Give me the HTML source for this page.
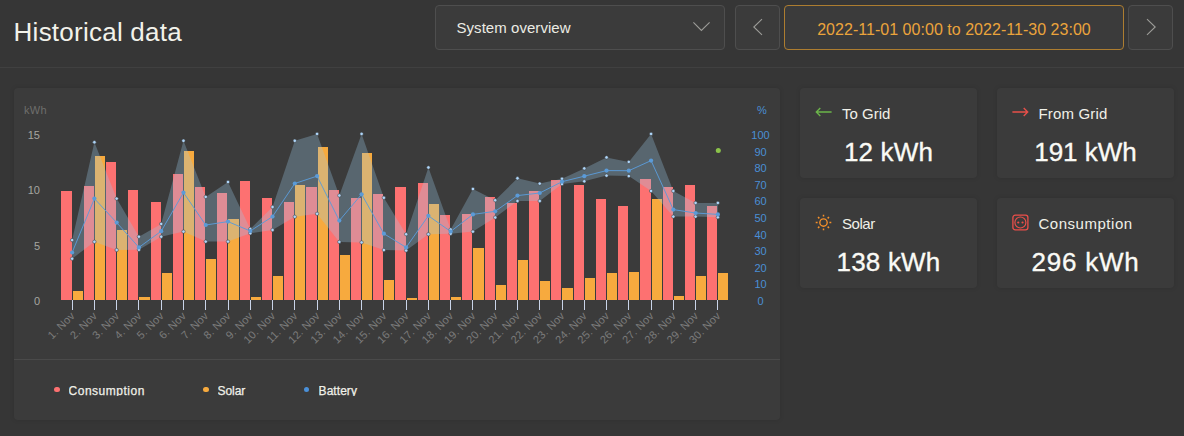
<!DOCTYPE html>
<html><head><meta charset="utf-8"><title>Historical data</title>
<style>
*{box-sizing:border-box}
html,body{margin:0;padding:0}
body{width:1184px;height:436px;overflow:hidden;background:#363636;font-family:"Liberation Sans",sans-serif;position:relative;color:#f0f0e8}
.abs{position:absolute}
.title{left:13.6px;top:16.7px;font-size:26px;line-height:30px;letter-spacing:0.24px;color:#f2f2ea;white-space:nowrap}
.box{position:absolute;top:5px;height:45px;border:1px solid #4e4e4e;border-radius:4px;background:#3b3b3b}
.hr{position:absolute;left:0;top:67px;width:1184px;height:1px;background:#404040}
.panel{position:absolute;background:#3b3b3b;border-radius:4px;box-shadow:0 0 5px rgba(0,0,0,0.10)}
.card{position:absolute;background:#3b3b3b;border-radius:4px;width:177px;height:90px;box-shadow:0 0 5px rgba(0,0,0,0.10)}
.lbl{position:absolute;font-size:15px;line-height:18px;color:#f0f0e8;white-space:nowrap}
.val{position:absolute;left:0;width:100%;text-align:center;font-size:26px;line-height:30px;color:#fafaf5;white-space:nowrap;-webkit-text-stroke:0.35px #fafaf5}
.legw{top:383.6px;height:12px;overflow:hidden}
.leg{position:absolute;font-size:12px;line-height:14px;color:#f0f0e8;white-space:nowrap;top:0;left:0;-webkit-text-stroke:0.25px #f0f0e8}
svg text{font-family:"Liberation Sans",sans-serif}
</style></head><body>
<div class="abs title">Historical data</div>
<div class="box" style="left:435px;width:290px"><div class="abs" style="left:20.5px;top:13.2px;font-size:15px;line-height:18px;color:#ecece4;white-space:nowrap;letter-spacing:0.05px">System overview</div>
<svg class="abs" style="left:254px;top:13.05px" width="22" height="14" viewBox="0 0 22 14"><path d="M3.4 3.3 L11.4 11.5 L19.6 3.3" fill="none" stroke="#9c9c98" stroke-width="1.1"/></svg></div>
<div class="box" style="left:735px;width:45px"><svg class="abs" style="left:13px;top:10.05px" width="16" height="22" viewBox="0 0 16 22"><path d="M13 3.2 L4.8 11 L13 18.9" fill="none" stroke="#9c9c98" stroke-width="1.1"/></svg></div>
<div class="box" style="left:784px;width:340px;border-color:#ad7d30"><div class="abs" style="left:0;width:100%;text-align:center;top:14.6px;font-size:16px;line-height:18px;color:#eba43b;white-space:nowrap;letter-spacing:0.03px">2022-11-01 00:00 to 2022-11-30 23:00</div></div>
<div class="box" style="left:1128px;width:45px"><svg class="abs" style="left:14.4px;top:10.1px" width="16" height="22" viewBox="0 0 16 22"><path d="M4 3.2 L12.2 11 L4 18.9" fill="none" stroke="#9c9c98" stroke-width="1.1"/></svg></div>
<div class="hr"></div>
<div class="panel" style="left:14px;top:88px;width:766px;height:332px"></div>
<div class="abs" style="left:14px;top:359px;width:766px;height:1px;background:#4a4a4a"></div>
<svg class="abs" style="left:0;top:0" width="790" height="436" viewBox="0 0 790 436">
<rect x="61" y="191" width="11" height="109" fill="#fd7171"/>
<rect x="73" y="291" width="10" height="9" fill="#f7aa3e"/>
<rect x="84" y="186" width="10" height="114" fill="#fd7171"/>
<rect x="95" y="156" width="10" height="144" fill="#f7aa3e"/>
<rect x="106" y="162" width="10" height="138" fill="#fd7171"/>
<rect x="117" y="230" width="10" height="70" fill="#f7aa3e"/>
<rect x="128" y="190" width="10" height="110" fill="#fd7171"/>
<rect x="139" y="297" width="11" height="3" fill="#f7aa3e"/>
<rect x="151" y="202" width="10" height="98" fill="#fd7171"/>
<rect x="162" y="273" width="10" height="27" fill="#f7aa3e"/>
<rect x="173" y="174" width="10" height="126" fill="#fd7171"/>
<rect x="184" y="151" width="10" height="149" fill="#f7aa3e"/>
<rect x="195" y="187" width="10" height="113" fill="#fd7171"/>
<rect x="206" y="259" width="10" height="41" fill="#f7aa3e"/>
<rect x="217" y="193" width="10" height="107" fill="#fd7171"/>
<rect x="228" y="219" width="11" height="81" fill="#f7aa3e"/>
<rect x="240" y="181" width="10" height="119" fill="#fd7171"/>
<rect x="251" y="297" width="10" height="3" fill="#f7aa3e"/>
<rect x="262" y="198" width="10" height="102" fill="#fd7171"/>
<rect x="273" y="276" width="10" height="24" fill="#f7aa3e"/>
<rect x="284" y="202" width="10" height="98" fill="#fd7171"/>
<rect x="295" y="185" width="10" height="115" fill="#f7aa3e"/>
<rect x="306" y="187" width="11" height="113" fill="#fd7171"/>
<rect x="318" y="147" width="10" height="153" fill="#f7aa3e"/>
<rect x="329" y="190" width="10" height="110" fill="#fd7171"/>
<rect x="340" y="255" width="10" height="45" fill="#f7aa3e"/>
<rect x="351" y="198" width="10" height="102" fill="#fd7171"/>
<rect x="362" y="153" width="10" height="147" fill="#f7aa3e"/>
<rect x="373" y="194" width="10" height="106" fill="#fd7171"/>
<rect x="384" y="280" width="10" height="20" fill="#f7aa3e"/>
<rect x="395" y="187" width="11" height="113" fill="#fd7171"/>
<rect x="407" y="298" width="10" height="2" fill="#f7aa3e"/>
<rect x="418" y="183" width="10" height="117" fill="#fd7171"/>
<rect x="429" y="204" width="10" height="96" fill="#f7aa3e"/>
<rect x="440" y="215" width="10" height="85" fill="#fd7171"/>
<rect x="451" y="297" width="10" height="3" fill="#f7aa3e"/>
<rect x="462" y="214" width="10" height="86" fill="#fd7171"/>
<rect x="473" y="248" width="11" height="52" fill="#f7aa3e"/>
<rect x="485" y="197" width="10" height="103" fill="#fd7171"/>
<rect x="496" y="285" width="10" height="15" fill="#f7aa3e"/>
<rect x="507" y="203" width="10" height="97" fill="#fd7171"/>
<rect x="518" y="260" width="10" height="40" fill="#f7aa3e"/>
<rect x="529" y="191" width="10" height="109" fill="#fd7171"/>
<rect x="540" y="281" width="10" height="19" fill="#f7aa3e"/>
<rect x="551" y="180" width="10" height="120" fill="#fd7171"/>
<rect x="562" y="288" width="11" height="12" fill="#f7aa3e"/>
<rect x="574" y="185" width="10" height="115" fill="#fd7171"/>
<rect x="585" y="278" width="10" height="22" fill="#f7aa3e"/>
<rect x="596" y="199" width="10" height="101" fill="#fd7171"/>
<rect x="607" y="273" width="10" height="27" fill="#f7aa3e"/>
<rect x="618" y="206" width="10" height="94" fill="#fd7171"/>
<rect x="629" y="272" width="10" height="28" fill="#f7aa3e"/>
<rect x="640" y="179" width="11" height="121" fill="#fd7171"/>
<rect x="652" y="199" width="10" height="101" fill="#f7aa3e"/>
<rect x="663" y="187" width="10" height="113" fill="#fd7171"/>
<rect x="674" y="296" width="10" height="4" fill="#f7aa3e"/>
<rect x="685" y="185" width="10" height="115" fill="#fd7171"/>
<rect x="696" y="276" width="10" height="24" fill="#f7aa3e"/>
<rect x="707" y="206" width="10" height="94" fill="#fd7171"/>
<rect x="718" y="273" width="10" height="27" fill="#f7aa3e"/>
<rect x="72" y="300" width="1" height="10" fill="#c9d3e8"/>
<rect x="94" y="300" width="1" height="10" fill="#c9d3e8"/>
<rect x="116" y="300" width="1" height="10" fill="#c9d3e8"/>
<rect x="138" y="300" width="1" height="10" fill="#c9d3e8"/>
<rect x="161" y="300" width="1" height="10" fill="#c9d3e8"/>
<rect x="183" y="300" width="1" height="10" fill="#c9d3e8"/>
<rect x="205" y="300" width="1" height="10" fill="#c9d3e8"/>
<rect x="228" y="300" width="1" height="10" fill="#c9d3e8"/>
<rect x="250" y="300" width="1" height="10" fill="#c9d3e8"/>
<rect x="272" y="300" width="1" height="10" fill="#c9d3e8"/>
<rect x="294" y="300" width="1" height="10" fill="#c9d3e8"/>
<rect x="317" y="300" width="1" height="10" fill="#c9d3e8"/>
<rect x="339" y="300" width="1" height="10" fill="#c9d3e8"/>
<rect x="361" y="300" width="1" height="10" fill="#c9d3e8"/>
<rect x="383" y="300" width="1" height="10" fill="#c9d3e8"/>
<rect x="406" y="300" width="1" height="10" fill="#c9d3e8"/>
<rect x="428" y="300" width="1" height="10" fill="#c9d3e8"/>
<rect x="450" y="300" width="1" height="10" fill="#c9d3e8"/>
<rect x="472" y="300" width="1" height="10" fill="#c9d3e8"/>
<rect x="495" y="300" width="1" height="10" fill="#c9d3e8"/>
<rect x="517" y="300" width="1" height="10" fill="#c9d3e8"/>
<rect x="539" y="300" width="1" height="10" fill="#c9d3e8"/>
<rect x="562" y="300" width="1" height="10" fill="#c9d3e8"/>
<rect x="584" y="300" width="1" height="10" fill="#c9d3e8"/>
<rect x="606" y="300" width="1" height="10" fill="#c9d3e8"/>
<rect x="628" y="300" width="1" height="10" fill="#c9d3e8"/>
<rect x="651" y="300" width="1" height="10" fill="#c9d3e8"/>
<rect x="673" y="300" width="1" height="10" fill="#c9d3e8"/>
<rect x="695" y="300" width="1" height="10" fill="#c9d3e8"/>
<rect x="717" y="300" width="1" height="10" fill="#c9d3e8"/>
<path d="M72.13 258.7 L94.4 241.8 L116.67 250 L138.93 249.8 L161.2 236.7 L183.47 231.6 L205.73 241.6 L228 241.6 L250.27 233.3 L272.53 230 L294.8 216.8 L317.07 213.8 L339.33 241.9 L361.6 242.4 L383.87 250 L406.13 250.5 L428.4 234.2 L450.67 233.7 L472.93 231.6 L495.2 217.5 L517.47 201 L539.73 201 L562 184 L584.27 181.3 L606.53 175.6 L628.8 176.1 L651.07 191 L673.33 216.6 L695.6 216.6 L717.87 217.3 L717.87 202.9 L695.6 202.9 L673.33 191 L651.07 133.9 L628.8 161.9 L606.53 157.4 L584.27 168.4 L562 178.8 L539.73 183.6 L517.47 178.3 L495.2 200.2 L472.93 189 L450.67 229.5 L428.4 167.5 L406.13 234.2 L383.87 197.8 L361.6 133.9 L339.33 195.5 L317.07 133.9 L294.8 140.8 L272.53 207 L250.27 229 L228 182 L205.73 196.9 L183.47 140.8 L161.2 223.9 L138.93 236.7 L116.67 198.6 L94.4 142.2 L72.13 240.1 Z" fill="#9ccbe8" fill-opacity="0.3"/>
<path d="M72.13 252.5 L94.4 198.6 L116.67 222.6 L138.93 247.4 L161.2 231.2 L183.47 192.6 L205.73 225 L228 221.6 L250.27 231 L272.53 216.6 L294.8 183.5 L317.07 176.1 L339.33 220.6 L361.6 194.3 L383.87 233.7 L406.13 247.4 L428.4 215.8 L450.67 231.5 L472.93 214.4 L495.2 211.3 L517.47 195.6 L539.73 193 L562 181.7 L584.27 176.2 L606.53 170.6 L628.8 170.7 L651.07 160.6 L673.33 209.6 L695.6 213 L717.87 214.4" fill="none" stroke="#5b9bd8" stroke-width="0.95" stroke-linejoin="round"/>
<circle cx="72.13" cy="240.1" r="1.7" fill="#aed6fa" stroke="#3b3b3b" stroke-opacity="0.75" stroke-width="0.7"/>
<circle cx="94.4" cy="142.2" r="1.7" fill="#aed6fa" stroke="#3b3b3b" stroke-opacity="0.75" stroke-width="0.7"/>
<circle cx="116.67" cy="198.6" r="1.7" fill="#aed6fa" stroke="#3b3b3b" stroke-opacity="0.75" stroke-width="0.7"/>
<circle cx="138.93" cy="236.7" r="1.7" fill="#aed6fa" stroke="#3b3b3b" stroke-opacity="0.75" stroke-width="0.7"/>
<circle cx="161.2" cy="223.9" r="1.7" fill="#aed6fa" stroke="#3b3b3b" stroke-opacity="0.75" stroke-width="0.7"/>
<circle cx="183.47" cy="140.8" r="1.7" fill="#aed6fa" stroke="#3b3b3b" stroke-opacity="0.75" stroke-width="0.7"/>
<circle cx="205.73" cy="196.9" r="1.7" fill="#aed6fa" stroke="#3b3b3b" stroke-opacity="0.75" stroke-width="0.7"/>
<circle cx="228" cy="182" r="1.7" fill="#aed6fa" stroke="#3b3b3b" stroke-opacity="0.75" stroke-width="0.7"/>
<circle cx="250.27" cy="229" r="1.7" fill="#aed6fa" stroke="#3b3b3b" stroke-opacity="0.75" stroke-width="0.7"/>
<circle cx="272.53" cy="207" r="1.7" fill="#aed6fa" stroke="#3b3b3b" stroke-opacity="0.75" stroke-width="0.7"/>
<circle cx="294.8" cy="140.8" r="1.7" fill="#aed6fa" stroke="#3b3b3b" stroke-opacity="0.75" stroke-width="0.7"/>
<circle cx="317.07" cy="133.9" r="1.7" fill="#aed6fa" stroke="#3b3b3b" stroke-opacity="0.75" stroke-width="0.7"/>
<circle cx="339.33" cy="195.5" r="1.7" fill="#aed6fa" stroke="#3b3b3b" stroke-opacity="0.75" stroke-width="0.7"/>
<circle cx="361.6" cy="133.9" r="1.7" fill="#aed6fa" stroke="#3b3b3b" stroke-opacity="0.75" stroke-width="0.7"/>
<circle cx="383.87" cy="197.8" r="1.7" fill="#aed6fa" stroke="#3b3b3b" stroke-opacity="0.75" stroke-width="0.7"/>
<circle cx="406.13" cy="234.2" r="1.7" fill="#aed6fa" stroke="#3b3b3b" stroke-opacity="0.75" stroke-width="0.7"/>
<circle cx="428.4" cy="167.5" r="1.7" fill="#aed6fa" stroke="#3b3b3b" stroke-opacity="0.75" stroke-width="0.7"/>
<circle cx="450.67" cy="229.5" r="1.7" fill="#aed6fa" stroke="#3b3b3b" stroke-opacity="0.75" stroke-width="0.7"/>
<circle cx="472.93" cy="189" r="1.7" fill="#aed6fa" stroke="#3b3b3b" stroke-opacity="0.75" stroke-width="0.7"/>
<circle cx="495.2" cy="200.2" r="1.7" fill="#aed6fa" stroke="#3b3b3b" stroke-opacity="0.75" stroke-width="0.7"/>
<circle cx="517.47" cy="178.3" r="1.7" fill="#aed6fa" stroke="#3b3b3b" stroke-opacity="0.75" stroke-width="0.7"/>
<circle cx="539.73" cy="183.6" r="1.7" fill="#aed6fa" stroke="#3b3b3b" stroke-opacity="0.75" stroke-width="0.7"/>
<circle cx="562" cy="178.8" r="1.7" fill="#aed6fa" stroke="#3b3b3b" stroke-opacity="0.75" stroke-width="0.7"/>
<circle cx="584.27" cy="168.4" r="1.7" fill="#aed6fa" stroke="#3b3b3b" stroke-opacity="0.75" stroke-width="0.7"/>
<circle cx="606.53" cy="157.4" r="1.7" fill="#aed6fa" stroke="#3b3b3b" stroke-opacity="0.75" stroke-width="0.7"/>
<circle cx="628.8" cy="161.9" r="1.7" fill="#aed6fa" stroke="#3b3b3b" stroke-opacity="0.75" stroke-width="0.7"/>
<circle cx="651.07" cy="133.9" r="1.7" fill="#aed6fa" stroke="#3b3b3b" stroke-opacity="0.75" stroke-width="0.7"/>
<circle cx="673.33" cy="191" r="1.7" fill="#aed6fa" stroke="#3b3b3b" stroke-opacity="0.75" stroke-width="0.7"/>
<circle cx="695.6" cy="202.9" r="1.7" fill="#aed6fa" stroke="#3b3b3b" stroke-opacity="0.75" stroke-width="0.7"/>
<circle cx="717.87" cy="202.9" r="1.7" fill="#aed6fa" stroke="#3b3b3b" stroke-opacity="0.75" stroke-width="0.7"/>
<circle cx="72.13" cy="258.7" r="1.7" fill="#aed6fa" stroke="#3b3b3b" stroke-opacity="0.75" stroke-width="0.7"/>
<circle cx="94.4" cy="241.8" r="1.7" fill="#aed6fa" stroke="#3b3b3b" stroke-opacity="0.75" stroke-width="0.7"/>
<circle cx="116.67" cy="250" r="1.7" fill="#aed6fa" stroke="#3b3b3b" stroke-opacity="0.75" stroke-width="0.7"/>
<circle cx="138.93" cy="249.8" r="1.7" fill="#aed6fa" stroke="#3b3b3b" stroke-opacity="0.75" stroke-width="0.7"/>
<circle cx="161.2" cy="236.7" r="1.7" fill="#aed6fa" stroke="#3b3b3b" stroke-opacity="0.75" stroke-width="0.7"/>
<circle cx="183.47" cy="231.6" r="1.7" fill="#aed6fa" stroke="#3b3b3b" stroke-opacity="0.75" stroke-width="0.7"/>
<circle cx="205.73" cy="241.6" r="1.7" fill="#aed6fa" stroke="#3b3b3b" stroke-opacity="0.75" stroke-width="0.7"/>
<circle cx="228" cy="241.6" r="1.7" fill="#aed6fa" stroke="#3b3b3b" stroke-opacity="0.75" stroke-width="0.7"/>
<circle cx="250.27" cy="233.3" r="1.7" fill="#aed6fa" stroke="#3b3b3b" stroke-opacity="0.75" stroke-width="0.7"/>
<circle cx="272.53" cy="230" r="1.7" fill="#aed6fa" stroke="#3b3b3b" stroke-opacity="0.75" stroke-width="0.7"/>
<circle cx="294.8" cy="216.8" r="1.7" fill="#aed6fa" stroke="#3b3b3b" stroke-opacity="0.75" stroke-width="0.7"/>
<circle cx="317.07" cy="213.8" r="1.7" fill="#aed6fa" stroke="#3b3b3b" stroke-opacity="0.75" stroke-width="0.7"/>
<circle cx="339.33" cy="241.9" r="1.7" fill="#aed6fa" stroke="#3b3b3b" stroke-opacity="0.75" stroke-width="0.7"/>
<circle cx="361.6" cy="242.4" r="1.7" fill="#aed6fa" stroke="#3b3b3b" stroke-opacity="0.75" stroke-width="0.7"/>
<circle cx="383.87" cy="250" r="1.7" fill="#aed6fa" stroke="#3b3b3b" stroke-opacity="0.75" stroke-width="0.7"/>
<circle cx="406.13" cy="250.5" r="1.7" fill="#aed6fa" stroke="#3b3b3b" stroke-opacity="0.75" stroke-width="0.7"/>
<circle cx="428.4" cy="234.2" r="1.7" fill="#aed6fa" stroke="#3b3b3b" stroke-opacity="0.75" stroke-width="0.7"/>
<circle cx="450.67" cy="233.7" r="1.7" fill="#aed6fa" stroke="#3b3b3b" stroke-opacity="0.75" stroke-width="0.7"/>
<circle cx="472.93" cy="231.6" r="1.7" fill="#aed6fa" stroke="#3b3b3b" stroke-opacity="0.75" stroke-width="0.7"/>
<circle cx="495.2" cy="217.5" r="1.7" fill="#aed6fa" stroke="#3b3b3b" stroke-opacity="0.75" stroke-width="0.7"/>
<circle cx="517.47" cy="201" r="1.7" fill="#aed6fa" stroke="#3b3b3b" stroke-opacity="0.75" stroke-width="0.7"/>
<circle cx="539.73" cy="201" r="1.7" fill="#aed6fa" stroke="#3b3b3b" stroke-opacity="0.75" stroke-width="0.7"/>
<circle cx="562" cy="184" r="1.7" fill="#aed6fa" stroke="#3b3b3b" stroke-opacity="0.75" stroke-width="0.7"/>
<circle cx="584.27" cy="181.3" r="1.7" fill="#aed6fa" stroke="#3b3b3b" stroke-opacity="0.75" stroke-width="0.7"/>
<circle cx="606.53" cy="175.6" r="1.7" fill="#aed6fa" stroke="#3b3b3b" stroke-opacity="0.75" stroke-width="0.7"/>
<circle cx="628.8" cy="176.1" r="1.7" fill="#aed6fa" stroke="#3b3b3b" stroke-opacity="0.75" stroke-width="0.7"/>
<circle cx="651.07" cy="191" r="1.7" fill="#aed6fa" stroke="#3b3b3b" stroke-opacity="0.75" stroke-width="0.7"/>
<circle cx="673.33" cy="216.6" r="1.7" fill="#aed6fa" stroke="#3b3b3b" stroke-opacity="0.75" stroke-width="0.7"/>
<circle cx="695.6" cy="216.6" r="1.7" fill="#aed6fa" stroke="#3b3b3b" stroke-opacity="0.75" stroke-width="0.7"/>
<circle cx="717.87" cy="217.3" r="1.7" fill="#aed6fa" stroke="#3b3b3b" stroke-opacity="0.75" stroke-width="0.7"/>
<circle cx="72.13" cy="252.5" r="2.1" fill="#5b9bd8"/>
<circle cx="94.4" cy="198.6" r="2.1" fill="#5b9bd8"/>
<circle cx="116.67" cy="222.6" r="2.1" fill="#5b9bd8"/>
<circle cx="138.93" cy="247.4" r="2.1" fill="#5b9bd8"/>
<circle cx="161.2" cy="231.2" r="2.1" fill="#5b9bd8"/>
<circle cx="183.47" cy="192.6" r="2.1" fill="#5b9bd8"/>
<circle cx="205.73" cy="225" r="2.1" fill="#5b9bd8"/>
<circle cx="228" cy="221.6" r="2.1" fill="#5b9bd8"/>
<circle cx="250.27" cy="231" r="2.1" fill="#5b9bd8"/>
<circle cx="272.53" cy="216.6" r="2.1" fill="#5b9bd8"/>
<circle cx="294.8" cy="183.5" r="2.1" fill="#5b9bd8"/>
<circle cx="317.07" cy="176.1" r="2.1" fill="#5b9bd8"/>
<circle cx="339.33" cy="220.6" r="2.1" fill="#5b9bd8"/>
<circle cx="361.6" cy="194.3" r="2.1" fill="#5b9bd8"/>
<circle cx="383.87" cy="233.7" r="2.1" fill="#5b9bd8"/>
<circle cx="406.13" cy="247.4" r="2.1" fill="#5b9bd8"/>
<circle cx="428.4" cy="215.8" r="2.1" fill="#5b9bd8"/>
<circle cx="450.67" cy="231.5" r="2.1" fill="#5b9bd8"/>
<circle cx="472.93" cy="214.4" r="2.1" fill="#5b9bd8"/>
<circle cx="495.2" cy="211.3" r="2.1" fill="#5b9bd8"/>
<circle cx="517.47" cy="195.6" r="2.1" fill="#5b9bd8"/>
<circle cx="539.73" cy="193" r="2.1" fill="#5b9bd8"/>
<circle cx="562" cy="181.7" r="2.1" fill="#5b9bd8"/>
<circle cx="584.27" cy="176.2" r="2.1" fill="#5b9bd8"/>
<circle cx="606.53" cy="170.6" r="2.1" fill="#5b9bd8"/>
<circle cx="628.8" cy="170.7" r="2.1" fill="#5b9bd8"/>
<circle cx="651.07" cy="160.6" r="2.1" fill="#5b9bd8"/>
<circle cx="673.33" cy="209.6" r="2.1" fill="#5b9bd8"/>
<circle cx="695.6" cy="213" r="2.1" fill="#5b9bd8"/>
<circle cx="717.87" cy="214.4" r="2.1" fill="#5b9bd8"/>
<circle cx="718.3" cy="150.4" r="2.5" fill="#8bc34a"/>
<text x="40" y="138.9" text-anchor="end" fill="#a6a6a0" font-size="11">15</text>
<text x="40" y="194.3" text-anchor="end" fill="#a6a6a0" font-size="11">10</text>
<text x="40" y="249.7" text-anchor="end" fill="#a6a6a0" font-size="11">5</text>
<text x="40" y="305.1" text-anchor="end" fill="#a6a6a0" font-size="11">0</text>
<text x="24" y="113.6" fill="#6e6e6c" font-size="11" letter-spacing="0.25">kWh</text>
<text x="760.5" y="305.1" text-anchor="middle" fill="#4a8fd6" font-size="11">0</text>
<text x="760.5" y="288.48" text-anchor="middle" fill="#4a8fd6" font-size="11">10</text>
<text x="760.5" y="271.86" text-anchor="middle" fill="#4a8fd6" font-size="11">20</text>
<text x="760.5" y="255.24" text-anchor="middle" fill="#4a8fd6" font-size="11">30</text>
<text x="760.5" y="238.62" text-anchor="middle" fill="#4a8fd6" font-size="11">40</text>
<text x="760.5" y="222" text-anchor="middle" fill="#4a8fd6" font-size="11">50</text>
<text x="760.5" y="205.38" text-anchor="middle" fill="#4a8fd6" font-size="11">60</text>
<text x="760.5" y="188.76" text-anchor="middle" fill="#4a8fd6" font-size="11">70</text>
<text x="760.5" y="172.14" text-anchor="middle" fill="#4a8fd6" font-size="11">80</text>
<text x="760.5" y="155.52" text-anchor="middle" fill="#4a8fd6" font-size="11">90</text>
<text x="760.5" y="138.9" text-anchor="middle" fill="#4a8fd6" font-size="11">100</text>
<text x="762" y="114" text-anchor="middle" fill="#4a8fd6" font-size="11">%</text>
<text x="75.53" y="316.4" text-anchor="end" fill="#7b7b7b" font-size="11" letter-spacing="0.2" transform="rotate(-45 75.53 316.4)">1. Nov</text>
<text x="97.8" y="316.4" text-anchor="end" fill="#7b7b7b" font-size="11" letter-spacing="0.2" transform="rotate(-45 97.8 316.4)">2. Nov</text>
<text x="120.07" y="316.4" text-anchor="end" fill="#7b7b7b" font-size="11" letter-spacing="0.2" transform="rotate(-45 120.07 316.4)">3. Nov</text>
<text x="142.33" y="316.4" text-anchor="end" fill="#7b7b7b" font-size="11" letter-spacing="0.2" transform="rotate(-45 142.33 316.4)">4. Nov</text>
<text x="164.6" y="316.4" text-anchor="end" fill="#7b7b7b" font-size="11" letter-spacing="0.2" transform="rotate(-45 164.6 316.4)">5. Nov</text>
<text x="186.87" y="316.4" text-anchor="end" fill="#7b7b7b" font-size="11" letter-spacing="0.2" transform="rotate(-45 186.87 316.4)">6. Nov</text>
<text x="209.13" y="316.4" text-anchor="end" fill="#7b7b7b" font-size="11" letter-spacing="0.2" transform="rotate(-45 209.13 316.4)">7. Nov</text>
<text x="231.4" y="316.4" text-anchor="end" fill="#7b7b7b" font-size="11" letter-spacing="0.2" transform="rotate(-45 231.4 316.4)">8. Nov</text>
<text x="253.67" y="316.4" text-anchor="end" fill="#7b7b7b" font-size="11" letter-spacing="0.2" transform="rotate(-45 253.67 316.4)">9. Nov</text>
<text x="275.93" y="316.4" text-anchor="end" fill="#7b7b7b" font-size="11" letter-spacing="0.2" transform="rotate(-45 275.93 316.4)">10. Nov</text>
<text x="298.2" y="316.4" text-anchor="end" fill="#7b7b7b" font-size="11" letter-spacing="0.2" transform="rotate(-45 298.2 316.4)">11. Nov</text>
<text x="320.47" y="316.4" text-anchor="end" fill="#7b7b7b" font-size="11" letter-spacing="0.2" transform="rotate(-45 320.47 316.4)">12. Nov</text>
<text x="342.73" y="316.4" text-anchor="end" fill="#7b7b7b" font-size="11" letter-spacing="0.2" transform="rotate(-45 342.73 316.4)">13. Nov</text>
<text x="365" y="316.4" text-anchor="end" fill="#7b7b7b" font-size="11" letter-spacing="0.2" transform="rotate(-45 365 316.4)">14. Nov</text>
<text x="387.27" y="316.4" text-anchor="end" fill="#7b7b7b" font-size="11" letter-spacing="0.2" transform="rotate(-45 387.27 316.4)">15. Nov</text>
<text x="409.53" y="316.4" text-anchor="end" fill="#7b7b7b" font-size="11" letter-spacing="0.2" transform="rotate(-45 409.53 316.4)">16. Nov</text>
<text x="431.8" y="316.4" text-anchor="end" fill="#7b7b7b" font-size="11" letter-spacing="0.2" transform="rotate(-45 431.8 316.4)">17. Nov</text>
<text x="454.07" y="316.4" text-anchor="end" fill="#7b7b7b" font-size="11" letter-spacing="0.2" transform="rotate(-45 454.07 316.4)">18. Nov</text>
<text x="476.33" y="316.4" text-anchor="end" fill="#7b7b7b" font-size="11" letter-spacing="0.2" transform="rotate(-45 476.33 316.4)">19. Nov</text>
<text x="498.6" y="316.4" text-anchor="end" fill="#7b7b7b" font-size="11" letter-spacing="0.2" transform="rotate(-45 498.6 316.4)">20. Nov</text>
<text x="520.87" y="316.4" text-anchor="end" fill="#7b7b7b" font-size="11" letter-spacing="0.2" transform="rotate(-45 520.87 316.4)">21. Nov</text>
<text x="543.13" y="316.4" text-anchor="end" fill="#7b7b7b" font-size="11" letter-spacing="0.2" transform="rotate(-45 543.13 316.4)">22. Nov</text>
<text x="565.4" y="316.4" text-anchor="end" fill="#7b7b7b" font-size="11" letter-spacing="0.2" transform="rotate(-45 565.4 316.4)">23. Nov</text>
<text x="587.67" y="316.4" text-anchor="end" fill="#7b7b7b" font-size="11" letter-spacing="0.2" transform="rotate(-45 587.67 316.4)">24. Nov</text>
<text x="609.93" y="316.4" text-anchor="end" fill="#7b7b7b" font-size="11" letter-spacing="0.2" transform="rotate(-45 609.93 316.4)">25. Nov</text>
<text x="632.2" y="316.4" text-anchor="end" fill="#7b7b7b" font-size="11" letter-spacing="0.2" transform="rotate(-45 632.2 316.4)">26. Nov</text>
<text x="654.47" y="316.4" text-anchor="end" fill="#7b7b7b" font-size="11" letter-spacing="0.2" transform="rotate(-45 654.47 316.4)">27. Nov</text>
<text x="676.73" y="316.4" text-anchor="end" fill="#7b7b7b" font-size="11" letter-spacing="0.2" transform="rotate(-45 676.73 316.4)">28. Nov</text>
<text x="699" y="316.4" text-anchor="end" fill="#7b7b7b" font-size="11" letter-spacing="0.2" transform="rotate(-45 699 316.4)">29. Nov</text>
<text x="721.27" y="316.4" text-anchor="end" fill="#7b7b7b" font-size="11" letter-spacing="0.2" transform="rotate(-45 721.27 316.4)">30. Nov</text>
</svg>
<div class="abs" style="left:54.3px;top:386.7px;width:5.8px;height:5.8px;border-radius:3px;background:#fd7171"></div>
<div class="abs" style="left:202.8px;top:386.7px;width:5.8px;height:5.8px;border-radius:3px;background:#f7aa3e"></div>
<div class="abs" style="left:303.5px;top:386.7px;width:5.8px;height:5.8px;border-radius:3px;background:#4a90d9"></div>
<div class="abs legw" style="left:68.6px;width:120px"><div class="leg" style="letter-spacing:0.5px">Consumption</div></div>
<div class="abs legw" style="left:217.6px;width:60px"><div class="leg" style="letter-spacing:-0.1px">Solar</div></div>
<div class="abs legw" style="left:318.6px;width:60px"><div class="leg" style="letter-spacing:0.05px">Battery</div></div>

<div class="card" style="left:800px;top:88px">
<svg class="abs" style="left:14px;top:17px" width="20" height="14" viewBox="0 0 20 14"><path d="M17.6 7 H2.4 M6.3 3 L2.3 7 L6.3 11" fill="none" stroke="#6bb54a" stroke-width="1.35"/></svg>
<div class="lbl" style="left:42px;top:17px">To Grid</div>
<div class="val" style="top:49.4px;letter-spacing:0.15px">12 kWh</div></div>
<div class="card" style="left:997px;top:88px">
<svg class="abs" style="left:12.5px;top:17px" width="20" height="14" viewBox="0 0 20 14"><path d="M2.4 7 H17.6 M13.7 3 L17.7 7 L13.7 11" fill="none" stroke="#e8504a" stroke-width="1.35"/></svg>
<div class="lbl" style="left:41.5px;top:17px;letter-spacing:0.17px">From Grid</div>
<div class="val" style="top:49.4px">191 kWh</div></div>
<div class="card" style="left:800px;top:198px">
<svg class="abs" style="left:14px;top:14.5px" width="19" height="19" viewBox="0 0 19 19"><g fill="none" stroke="#f5902a"><circle cx="9.5" cy="9.5" r="3.7" stroke-width="1.35"/><path stroke-width="1.5" d="M9.5 1.7v1.9M9.5 15.4v1.9M1.7 9.5h1.9M15.4 9.5h1.9M4 4l1.35 1.35M13.65 13.65l1.35 1.35M4 15l1.35-1.35M13.65 5.35l1.35-1.35"/></g></svg>
<div class="lbl" style="left:42px;top:17px;letter-spacing:-0.45px">Solar</div>
<div class="val" style="top:49.4px;letter-spacing:0.2px">138 kWh</div></div>
<div class="card" style="left:997px;top:198px">
<svg class="abs" style="left:13.7px;top:14.5px" width="19" height="19" viewBox="0 0 19 19"><g fill="none" stroke="#ec4f4a" stroke-width="1.3"><rect x="1.9" y="2.2" width="15" height="14.6" rx="2.4"/><circle cx="9.4" cy="9.5" r="5.5" stroke-width="1.15"/></g><circle cx="7.25" cy="9.5" r="1.1" fill="#ec4f4a"/><circle cx="11.55" cy="9.5" r="1.1" fill="#ec4f4a"/></svg>
<div class="lbl" style="left:41.5px;top:17px;letter-spacing:0.52px">Consumption</div>
<div class="val" style="top:49.4px;letter-spacing:0.75px">296 kWh</div></div>
</body></html>
